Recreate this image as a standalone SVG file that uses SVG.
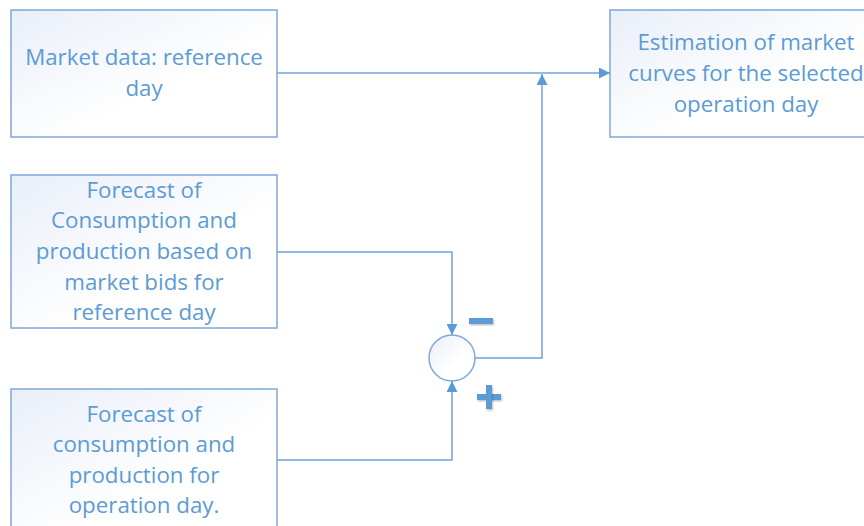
<svg xmlns="http://www.w3.org/2000/svg" width="864" height="526" viewBox="0 0 864 526">
<defs>
<linearGradient id="g" x1="0" y1="0" x2="1" y2="1">
<stop offset="0" stop-color="#e9eef8"/>
<stop offset="0.6" stop-color="#ffffff"/>
</linearGradient>
<marker id="ah" viewBox="0 0 10 10" refX="10" refY="5" markerWidth="11" markerHeight="11" markerUnits="userSpaceOnUse" orient="auto">
<path d="M0,0 L10,5 L0,10 z" fill="#5b9bd5"/>
</marker>
<filter id="sh" x="-30%" y="-30%" width="160%" height="160%">
<feDropShadow dx="1" dy="1.5" stdDeviation="1" flood-color="#000" flood-opacity="0.25"/>
</filter>
</defs>
<style>
.box{fill:url(#g);stroke:#7ea9d9;stroke-width:1.5}
.t{font-family:"Open Sans","Liberation Sans",sans-serif;font-size:22.3px;fill:#5b9bd5;text-anchor:middle}
.c{fill:none;stroke:#6fa3dc;stroke-width:1.5}
.sign{fill:#5b9bd5;filter:url(#sh)}
</style>
<rect width="864" height="526" fill="#ffffff"/>
<g id="market-data">
<rect class="box" x="11" y="10" width="266" height="127"/>
<text class="t" x="144" y="65">Market data: reference</text>
<text class="t" x="144" y="96">day</text>
</g>
<g id="estimation">
<rect class="box" x="610" y="10" width="264" height="127"/>
<text class="t" x="746" y="50">Estimation of market</text>
<text class="t" x="746" y="81">curves for the selected</text>
<text class="t" x="746" y="112">operation day</text>
</g>
<g id="forecast-reference">
<rect class="box" x="11" y="175" width="266" height="153"/>
<text class="t" x="144" y="198">Forecast of</text>
<text class="t" x="144" y="228">Consumption and</text>
<text class="t" x="144" y="259">production based on</text>
<text class="t" x="144" y="290">market bids for</text>
<text class="t" x="144" y="320">reference day</text>
</g>
<g id="forecast-operation">
<rect class="box" x="11" y="389" width="266" height="150"/>
<text class="t" x="144" y="422">Forecast of</text>
<text class="t" x="144" y="452">consumption and</text>
<text class="t" x="144" y="483">production for</text>
<text class="t" x="144" y="513">operation day.</text>
</g>
<g id="sum">
<circle cx="452" cy="358" r="23" fill="url(#g)" stroke="#7ea9d9" stroke-width="1.5"/>
<rect class="sign" x="469" y="318" width="24" height="6"/>
<rect class="sign" x="477" y="394" width="24" height="6"/>
<rect class="sign" x="486" y="385" width="6" height="24"/>
</g>
<g id="connectors">
<path class="c" d="M277,73 H610" marker-end="url(#ah)"/>
<path class="c" d="M475,358 H542 V74" marker-end="url(#ah)"/>
<path class="c" d="M277,252 H452 V335" marker-end="url(#ah)"/>
<path class="c" d="M277,460 H452 V381" marker-end="url(#ah)"/>
</g>
</svg>
